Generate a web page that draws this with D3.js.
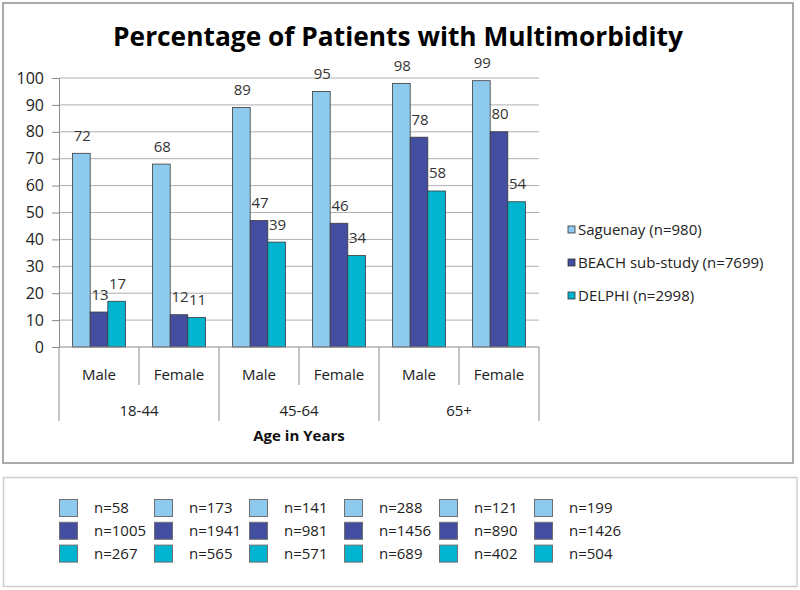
<!DOCTYPE html>
<html>
<head>
<meta charset="utf-8">
<script src="https://d3js.org/d3.v7.min.js"></script>
<style>
  html, body { margin: 0; padding: 0; background: #fff; }
  svg { display: block; font-family: "Open Sans", "Liberation Sans", sans-serif; }
</style>
</head>
<body>
<svg id="chart" width="800" height="590"></svg>
<script>
// ---- data ----
const categories = ["Male", "Female", "Male", "Female", "Male", "Female"];
const ageGroups = ["18-44", "45-64", "65+"];
const seriesNames = ["Saguenay (n=980)", "BEACH sub-study (n=7699)", "DELPHI (n=2998)"];
const saguenay = [72, 68, 89, 95, 98, 99];
const beach = [13, 12, 47, 46, 78, 80];
const delphi = [17, 11, 39, 34, 58, 54];
const nSaguenay = [58, 173, 141, 288, 121, 199];
const nBeach = [1005, 1941, 981, 1456, 890, 1426];
const nDelphi = [267, 565, 571, 689, 402, 504];
const yTicks = [0, 10, 20, 30, 40, 50, 60, 70, 80, 90, 100];
const chartTitle = "Percentage of Patients with Multimorbidity";
const xTitle = "Age in Years";

// ---- styles ----
const colors = ["#8ECAEE", "#434EA0", "#00B4D0"];
const seriesValues = [saguenay, beach, delphi];
const seriesN = [nSaguenay, nBeach, nDelphi];

const svg = d3.select("#chart");

// frames
svg.append("rect").attr("x", 3).attr("y", 3).attr("width", 790).attr("height", 460)
  .attr("fill", "#fff").attr("stroke", "#959595").attr("stroke-width", 1.6);
svg.append("rect").attr("x", 3.5).attr("y", 477.5).attr("width", 793.5).attr("height", 109)
  .attr("fill", "#fff").attr("stroke", "#cfcfcf").attr("stroke-width", 1.5);

// title
const t = svg.append("text").attr("x", 398).attr("y", 46).attr("text-anchor", "middle")
  .attr("font-weight", "bold").attr("font-size", 28).attr("fill", "#000").text(chartTitle);
const tw = t.node().getComputedTextLength();
if (tw > 0) t.attr("font-size", 28 * 570 / tw);

// scales
const pLeft = 59, pRight = 539, pTop = 78, pBottom = 347;
const idx = d3.range(categories.length);
const x0 = d3.scaleBand().domain(idx).range([pLeft, pRight]).paddingInner(0).paddingOuter(0);
const x1 = d3.scaleBand().domain(d3.range(seriesNames.length)).range([0, x0.bandwidth()])
  .paddingInner(0).paddingOuter(0.77);
const y = d3.scaleLinear().domain([0, 100]).range([pBottom, pTop]);

// gridlines
svg.append("g").selectAll("line").data(yTicks.filter(d => d > 0)).join("line")
  .attr("x1", pLeft).attr("x2", pRight).attr("y1", d => y(d)).attr("y2", d => y(d))
  .attr("stroke", "#b0b0b0").attr("stroke-width", 1);

// y axis
const yAxis = d3.axisLeft(y).tickValues(yTicks).tickSize(7).tickPadding(8);
const gy = svg.append("g").attr("transform", `translate(${pLeft},0)`).call(yAxis);
gy.select(".domain").attr("stroke", "#8a8a8a");
gy.selectAll(".tick line").attr("stroke", "#8a8a8a");
gy.selectAll(".tick text").attr("font-size", 16).attr("fill", "#222")
  .attr("font-family", "Open Sans");

// bars
const groups = svg.append("g").selectAll("g").data(idx).join("g")
  .attr("transform", i => `translate(${x0(i)},0)`);
groups.selectAll("rect").data(i => seriesValues.map((s, k) => ({k, v: s[i]}))).join("rect")
  .attr("x", d => x1(d.k)).attr("width", x1.bandwidth())
  .attr("y", d => y(d.v)).attr("height", d => y(0) - y(d.v))
  .attr("fill", d => colors[d.k]).attr("stroke", "#3a3a3a").attr("stroke-width", 0.8);
groups.selectAll("text").data(i => seriesValues.map((s, k) => ({k, v: s[i]}))).join("text")
  .attr("x", d => x1(d.k) + x1.bandwidth() / 2 + 1).attr("y", d => y(d.v) - 12.5)
  .attr("text-anchor", "middle").attr("font-size", 15).attr("fill", "#333").text(d => d.v);

// x axis line and separators
svg.append("line").attr("x1", pLeft).attr("x2", pRight).attr("y1", pBottom).attr("y2", pBottom)
  .attr("stroke", "#8a8a8a");
const seps = d3.range(categories.length + 1);
svg.append("g").selectAll("line").data(seps).join("line")
  .attr("x1", i => pLeft + i * x0.step()).attr("x2", i => pLeft + i * x0.step())
  .attr("y1", pBottom).attr("y2", i => (i % 2 === 0) ? 421 : 385)
  .attr("stroke", "#8a8a8a");
svg.append("g").selectAll("text").data(idx).join("text")
  .attr("x", i => x0(i) + x0.bandwidth() / 2).attr("y", 379.5)
  .attr("text-anchor", "middle").attr("font-size", 15).attr("fill", "#222")
  .text(i => categories[i]);
svg.append("g").selectAll("text").data(ageGroups).join("text")
  .attr("x", (d, j) => x0(j * 2) + x0.bandwidth()).attr("y", 415.5)
  .attr("text-anchor", "middle").attr("font-size", 15).attr("fill", "#222").text(d => d);
svg.append("text").attr("x", (pLeft + pRight) / 2).attr("y", 441).attr("text-anchor", "middle")
  .attr("font-size", 15).attr("font-weight", "bold").attr("fill", "#111").text(xTitle);

// right legend
const ly = d3.scalePoint().domain(d3.range(seriesNames.length)).range([229.5, 295.5]);
const lg = svg.append("g").selectAll("g").data(seriesNames).join("g")
  .attr("transform", (d, k) => `translate(568,${ly(k)})`);
lg.append("rect").attr("x", 0).attr("y", -3.5).attr("width", 7).attr("height", 7)
  .attr("fill", (d, k) => colors[k]).attr("stroke", "#333").attr("stroke-width", 0.8);
lg.append("text").attr("x", 10).attr("y", 5.3).attr("font-size", 15).attr("fill", "#222")
  .text(d => d);

// bottom n table
const cx = d3.scaleBand().domain(idx).range([59, 59 + 6 * 95]);
const ry = d3.scaleBand().domain(d3.range(seriesNames.length)).range([499, 499 + 3 * 22.8]);
const tbl = svg.append("g");
idx.forEach(i => {
  seriesN.forEach((arr, k) => {
    tbl.append("rect").attr("x", cx(i) + 0.5).attr("y", ry(k) + 0.5).attr("width", 18).attr("height", 17)
      .attr("fill", colors[k]).attr("stroke", "#6f6f6f").attr("stroke-width", 1);
    tbl.append("text").attr("x", cx(i) + 35).attr("y", ry(k) + 14)
      .attr("font-size", 15).attr("fill", "#222").text("n=" + arr[i]);
  });
});
</script>
</body>
</html>
